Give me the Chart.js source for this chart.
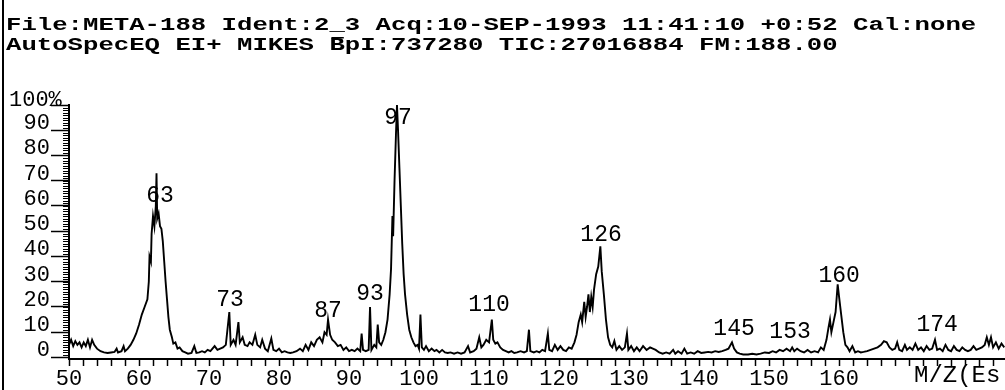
<!DOCTYPE html>
<html>
<head>
<meta charset="utf-8">
<script src="https://cdn.jsdelivr.net/npm/chart.js@4"></script>
<style>
  body { margin: 0; background: #fff; }
  canvas { display: block; }
</style>
</head>
<body>
<canvas id="ms" width="1005" height="390"></canvas>
<script>
const headerLines = [
    'File:META-188 Ident:2_3 Acq:10-SEP-1993 11:41:10 +0:52 Cal:none',
    'AutoSpecEQ EI+ MIKES BpI:737280 TIC:27016884 FM:188.00'
];

// m/z positions of the trace
const mz = [
    50.0, 50.3, 50.6, 50.9, 51.2, 51.5, 51.8, 52.1, 52.4, 52.7,
    53.0, 53.3, 53.6, 54.0, 54.5, 55.0, 55.5, 56.0, 56.5, 56.8,
    57.0, 57.5, 57.8, 58.0, 58.4, 58.8, 59.2, 59.6, 60.0, 60.4,
    60.8, 61.2, 61.4, 61.5, 61.7, 61.8, 62.0, 62.2, 62.4, 62.5,
    62.6, 62.8, 63.0, 63.2, 63.4, 63.6, 63.8, 64.0, 64.2, 64.4,
    64.7, 64.9, 65.2, 65.5, 65.8, 66.2, 66.6, 67.0, 67.5, 67.9,
    68.2, 68.6, 69.0, 69.4, 69.8, 70.2, 70.8, 71.2, 71.6, 72.0,
    72.4, 72.9, 73.1, 73.5, 73.8, 74.2, 74.4, 74.8, 75.1, 75.5,
    75.8, 76.2, 76.6, 76.9, 77.3, 77.6, 78.0, 78.4, 78.9, 79.2,
    79.6, 80.0, 80.4, 80.8, 81.2, 81.6, 82.0, 82.5, 83.0, 83.4,
    83.8, 84.2, 84.6, 85.0, 85.4, 85.8, 86.2, 86.5, 86.8, 87.0,
    87.3, 87.6, 88.0, 88.4, 88.8, 89.2, 89.6, 90.0, 90.4, 90.8,
    91.2, 91.6, 91.8, 92.0, 92.4, 92.8, 93.0, 93.2, 93.6, 93.9,
    94.1, 94.3, 94.6, 94.9, 95.2, 95.5, 95.8, 96.0, 96.2, 96.3,
    96.5, 96.7, 96.85, 97.0, 97.2, 97.4, 97.6, 97.8, 98.0, 98.3,
    98.6, 98.9, 99.2, 99.5, 99.8, 100.0, 100.2, 100.4, 100.7, 101.0,
    101.4, 101.8, 102.2, 102.5, 102.9, 103.3, 103.7, 104.1, 104.5, 105.0,
    105.5, 106.0, 106.5, 107.0, 107.3, 107.8, 108.2, 108.6, 108.9, 109.2,
    109.6, 110.0, 110.4, 110.6, 110.9, 111.2, 111.6, 112.0, 112.4, 112.8,
    113.2, 113.6, 114.0, 114.5, 115.0, 115.4, 115.7, 115.9, 116.4, 116.8,
    117.2, 117.6, 118.0, 118.4, 118.6, 119.0, 119.4, 119.8, 120.2, 120.6,
    121.0, 121.4, 121.8, 122.2, 122.5, 122.8, 123.1, 123.3, 123.6, 123.8,
    124.0, 124.2, 124.4, 124.6, 124.8, 125.0, 125.3, 125.6, 125.9, 126.1,
    126.4, 126.7, 127.0, 127.3, 127.6, 127.9, 128.2, 128.6, 129.0, 129.4,
    129.7, 129.9, 130.3, 130.7, 131.1, 131.5, 132.0, 132.5, 133.0, 133.4,
    133.8, 134.3, 134.8, 135.3, 135.8, 136.3, 136.6, 137.0, 137.5, 137.9,
    138.3, 138.8, 139.3, 139.8, 140.3, 140.8, 141.3, 141.8, 142.3, 142.8,
    143.3, 143.8, 144.2, 144.7, 145.0, 145.4, 145.8, 146.3, 147.0, 147.6,
    148.2, 148.8, 149.4, 150.0, 150.5, 151.0, 151.5, 152.0, 152.5, 153.0,
    153.3, 153.6, 154.0, 154.5, 155.0, 155.5, 156.0, 156.5, 157.0, 157.4,
    157.8, 158.2, 158.5, 158.7, 158.9, 159.2, 159.5, 159.8, 160.0, 160.3,
    160.6, 160.9, 161.2, 161.5, 161.9, 162.3, 162.7, 163.1, 163.5, 164.0,
    164.5, 165.0, 165.5, 166.0, 166.4, 166.8, 167.2, 167.6, 168.0, 168.3,
    168.6, 169.0, 169.4, 169.7, 170.1, 170.5, 170.9, 171.3, 171.7, 172.1,
    172.5, 172.9, 173.3, 173.7, 174.0, 174.4, 174.8, 175.2, 175.6, 176.0,
    176.4, 176.8, 177.2, 177.6, 178.0, 178.4, 178.8, 179.2, 179.6, 180.0,
    180.4, 180.8, 181.1, 181.4, 181.7, 182.0, 182.4, 182.8, 183.2, 183.6
];

// relative intensity (%) at each m/z above
const intensity = [
    5, 7, 4.5, 6.5, 5, 6, 4, 6, 4.5, 7,
    4, 7, 5, 3.5, 2.5, 2, 1.8, 2, 2.2, 3.5,
    2, 2.5, 4.5, 2.5, 3.5, 5, 7, 9.5, 13, 17,
    20, 23, 30, 40, 38, 49, 56, 52, 60, 73,
    55, 57, 52, 51, 46, 38, 30, 23, 16, 11,
    8, 5.5, 6, 3.5, 4, 2.5, 2, 1.5, 1.8, 4.5,
    1.8, 2, 2.5, 2, 3, 2.5, 4.5, 3, 3.5, 4,
    5, 18, 5, 7, 5, 14, 6, 8, 5, 4.5,
    6, 5, 9, 5, 4, 7, 3.5, 2.5, 7.5, 3,
    2.5, 3.5, 2, 2.5, 2, 1.8, 2, 2.5, 3.5, 2.5,
    5, 3, 6, 4.5, 7, 8, 6, 10, 9, 15,
    9, 7, 6, 4.5, 5, 3, 4, 2.5, 3, 2.5,
    3.5, 2.5, 9.5, 3, 2.5, 3, 20, 3, 5, 4,
    13, 6, 5, 7, 10, 15, 25, 35, 56, 48,
    70, 88, 100, 90, 75, 60, 45, 33, 25, 17,
    11, 8, 6, 4.5, 5, 3.5, 17, 4, 3, 4.5,
    2.5, 3.5, 2.5, 3, 2, 3, 2, 1.8, 2, 1.5,
    2, 1.5, 2, 4.5, 2, 2.5, 3.5, 8, 4, 5,
    7, 6, 15, 7, 5.5, 6, 4, 3, 2.5, 2,
    2.5, 1.8, 2, 2.5, 2, 2.5, 11, 2.5, 2, 2.5,
    2, 3, 2.5, 9.5, 3, 2.5, 5, 3, 4.5, 3,
    2.5, 4, 3.5, 6, 9, 14, 17, 14, 22, 16,
    20, 25, 18, 24, 20, 27, 33, 36, 44, 34,
    25, 15, 8, 5, 4, 6.5, 3, 4.5, 3, 4,
    9.5, 3, 4.5, 2.5, 4, 2.5, 4.5, 3, 4, 3.5,
    3, 2, 1.5, 2, 1.5, 3, 1.5, 2.5, 1.5, 3.5,
    1.5, 2, 1.5, 2.5, 1.8, 2, 2.2, 2, 2.5, 2.2,
    2.5, 3, 3.5, 6, 3.5, 2, 1.5, 1.2, 1.2, 1.5,
    1.2, 1.5, 2, 1.8, 2.5, 2, 3, 2.5, 3.5, 2.5,
    4, 2.5, 3.5, 2.5, 2, 3, 2, 2.5, 2, 4,
    3, 7, 12, 15, 10, 14, 18, 29, 24, 17,
    10, 5, 4, 2.5, 4.5, 2, 2.5, 2, 2.2, 2.5,
    3, 3.5, 4, 5, 6.5, 6, 4, 3, 3.5, 6,
    3, 2.5, 5, 3, 4, 3, 5.5, 3, 4, 2.5,
    4.5, 3, 3.5, 7, 3, 3.5, 2.5, 5, 3, 2.5,
    4.5, 3, 2.5, 4, 3, 2.5, 3, 4.5, 3, 3.5,
    4, 5, 8, 5, 8, 4, 6, 3.5, 5.5, 4
];

// annotated peaks and the height (%) where their labels sit
const peakLabels = [63, 73, 87, 93, 97, 110, 126, 145, 153, 160, 174];
const peakLabelPct = [64, 23, 18.4, 25.1, 94.7, 21, 48.6, 11.3, 10, 32.4, 12.8];

const xLabels = [50, 60, 70, 80, 90, 100, 110, 120, 130, 140, 150, 160];
const yLabels = [0, 10, 20, 30, 40, 50, 60, 70, 80, 90];
const xUnit = 'M/Z(Es';

const MONO = '"Liberation Mono", "DejaVu Sans Mono", monospace';

const extras = {
    id: 'extras',
    afterDraw(chart) {
        const { ctx, scales: { x, y } } = chart;
        ctx.save();
        ctx.fillStyle = '#000';
        ctx.strokeStyle = '#000';

        // left page border
        ctx.fillRect(2, 0, 2, 390);

        // header, stretched wide like the printout
        ctx.font = 'bold 19px ' + MONO;
        ctx.textBaseline = 'alphabetic';
        ctx.textAlign = 'left';
        const pitch = 15.4;
        const sx = pitch / ctx.measureText('M').width;
        [30, 50].forEach((base, i) => {
            ctx.save();
            ctx.translate(6, base);
            ctx.scale(sx, 1);
            ctx.fillText(headerLines[i], 0, 0);
            ctx.restore();
        });
        // bar over the B of BpI
        const bIdx = headerLines[1].indexOf('BpI');
        ctx.fillRect(6 + bIdx * pitch + 2, 37, pitch - 3, 1.5);

        // minor ticks on the intensity axis
        ctx.lineWidth = 1.2;
        ctx.beginPath();
        for (let v = 0; v <= 100; v++) {
            const py = Math.round(y.getPixelForValue(v)) + 0.5;
            ctx.moveTo(x.left - 6, py);
            ctx.lineTo(x.left, py);
        }
        ctx.stroke();

        // 100% label
        ctx.font = '22px ' + MONO;
        ctx.textBaseline = 'middle';
        ctx.fillText('100%', 9, y.getPixelForValue(100) - 5);

        // unit at the right end of the m/z axis
        ctx.font = '24px ' + MONO;
        ctx.fillText(xUnit, 914, 376);

        // peak labels
        ctx.font = '23px ' + MONO;
        ctx.textAlign = 'center';
        peakLabels.forEach((p, i) => {
            ctx.fillText(String(p), x.getPixelForValue(p), y.getPixelForValue(peakLabelPct[i]));
        });
        ctx.restore();
    }
};

new Chart(document.getElementById('ms'), {
    type: 'line',
    data: {
        datasets: [{
            data: mz.map((m, i) => ({ x: m, y: intensity[i] })),
            borderColor: '#000',
            borderWidth: 1.9,
            pointRadius: 0,
            tension: 0,
            clip: false
        }]
    },
    options: {
        responsive: false,
        animation: false,
        devicePixelRatio: 1,
        layout: { padding: { top: 105, right: 0, left: 0, bottom: 0 } },
        plugins: { legend: { display: false }, tooltip: { enabled: false } },
        scales: {
            x: {
                type: 'linear',
                min: 50,
                max: 183.7,
                afterFit: s => { s.height = 31; },
                afterBuildTicks: s => {
                    const t = [];
                    for (let v = 50; v <= 182; v += 2) t.push({ value: v });
                    s.ticks = t;
                },
                border: { display: true, color: '#000', width: 2 },
                grid: { drawOnChartArea: false, drawTicks: true, tickLength: 7, tickColor: '#000', tickWidth: 1.5 },
                ticks: {
                    color: '#000',
                    font: { family: MONO, size: 22 },
                    padding: 0,
                    maxRotation: 0,
                    autoSkip: false,
                    callback: v => xLabels.includes(v) ? String(v) : ''
                }
            },
            y: {
                min: -0.6,
                max: 100,
                afterFit: s => { s.width = 69; },
                afterBuildTicks: s => {
                    s.ticks = yLabels.concat([100]).map(v => ({ value: v }));
                },
                border: { display: true, color: '#000', width: 2 },
                grid: { drawOnChartArea: false, drawTicks: true, tickLength: 18, tickColor: '#000', tickWidth: 1.5 },
                ticks: {
                    color: '#000',
                    font: { family: MONO, size: 22 },
                    padding: 1,
                    labelOffset: -7,
                    autoSkip: false,
                    callback: v => yLabels.includes(v) ? String(v) : ''
                }
            }
        }
    },
    plugins: [extras]
});
</script>
</body>
</html>
